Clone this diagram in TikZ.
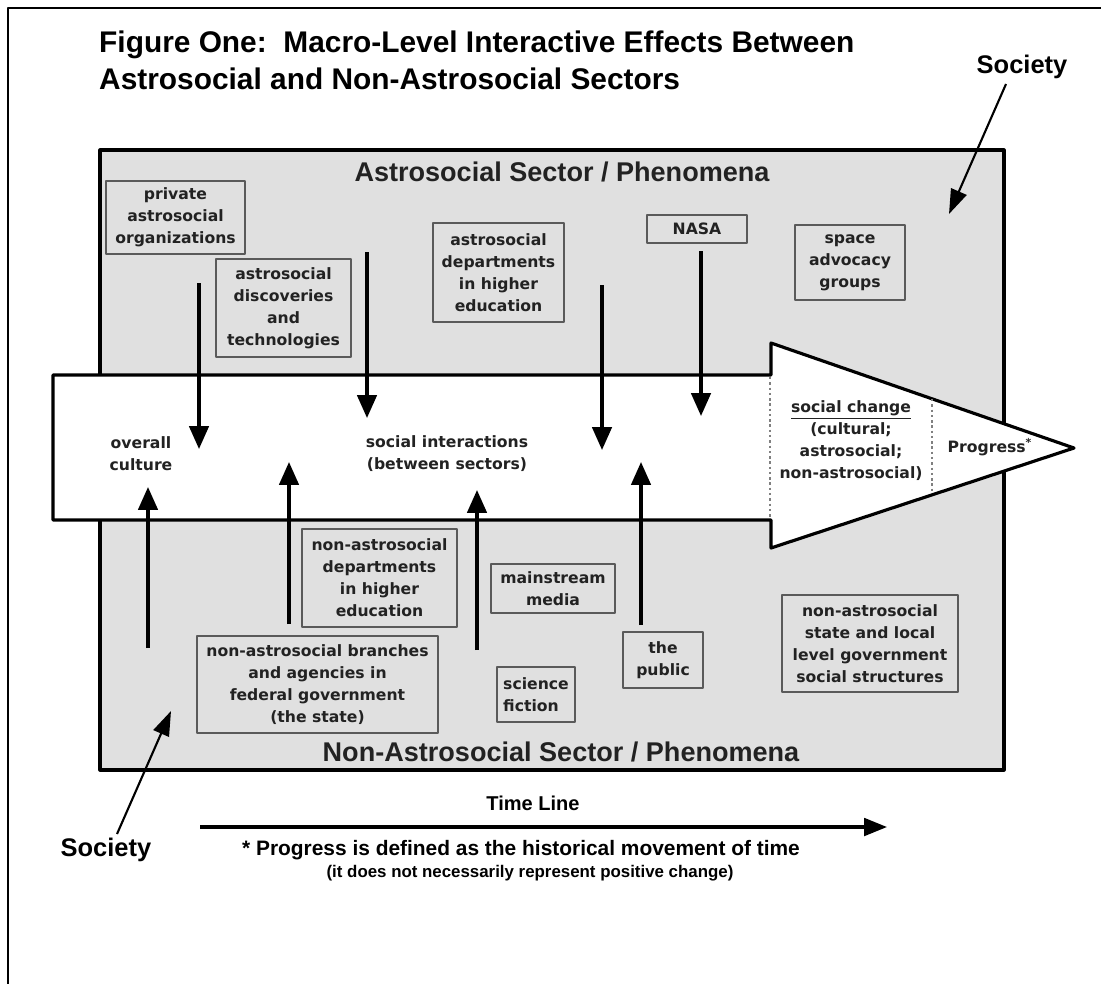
\documentclass[tikz,border=0pt]{standalone}
\usepackage{fontspec}
\setmainfont{Liberation Sans}
\newfontfamily\boxfont{DejaVu Sans}
\usetikzlibrary{arrows.meta}

\definecolor{sectorgray}{RGB}{224,224,224}
\definecolor{boxline}{RGB}{90,90,90}
\definecolor{inktext}{RGB}{34,34,34}

\tikzset{
  bx/.style={draw=boxline, line width=1pt, align=center, inner sep=1pt,
    text=inktext, font=\boxfont\bfseries\fontsize{8.9}{12.5}\selectfont},
  plain/.style={align=center, text=inktext, font=\boxfont\bfseries\fontsize{8.9}{12.5}\selectfont},
  flow/.style={line width=1.9pt, -{Triangle[width=11pt,length=13pt]}},
  pointer/.style={line width=1.2pt, -{Triangle[width=9.5pt,length=14pt]}},
  sector/.style={font=\bfseries\fontsize{15.4}{18}\selectfont, text=inktext}
}

\begin{document}
\begin{tikzpicture}[x=0.02cm, y=-0.02cm, line join=round]
\useasboundingbox (0,0) rectangle (1101,984);
% page frame (only top and left edges show)
\draw[line width=1.3pt] (1101,8) -- (8,8) -- (8,984);

% title
\node[anchor=west, font=\bfseries\fontsize{17}{19}\selectfont] (title1) at (93,45) {Figure One:\ \ Macro-Level Interactive Effects Between};
\node[anchor=west, font=\bfseries\fontsize{17}{19}\selectfont] (title2) at (93,79) {Astrosocial and Non-Astrosocial Sectors};

% the two sectors
\draw[fill=sectorgray, line width=1.8pt] (100,150) rectangle (1004,770);
\node[sector] (astro) at (562,172) {Astrosocial Sector / Phenomena};
\node[sector] (nonastro) at (561,752) {Non-Astrosocial Sector / Phenomena};

% big arrow of progress
\draw[fill=white, line width=1.8pt] (53,375) -- (771,375) -- (771,343) -- (1074,448)
  -- (771,548) -- (771,520) -- (53,520) -- cycle;
\draw[gray, line width=0.8pt, dash pattern=on 1.4pt off 1.6pt] (770,377) -- (770,518);
\draw[gray, line width=0.8pt, dash pattern=on 1.4pt off 1.6pt] (932,399) -- (932,493);

\node[plain] (culture) at (141,454) {overall\\culture};
\node[plain] (interact) at (447,454) {social interactions\\(between sectors)};
\node[plain] (change) at (851,441) {\underline{social change}\\(cultural;\\astrosocial;\\non-astrosocial)};
\node[plain] (progress) at (990,447) {Progress\textsuperscript{*}};

% astrosocial boxes
\node[bx, minimum width=139*0.02cm, minimum height=73*0.02cm] (priv) at (175.5,217.5) {private\\astrosocial\\organizations};
\node[bx, minimum width=135*0.02cm, minimum height=98*0.02cm] (disc) at (283.5,308) {astrosocial\\discoveries\\and\\technologies};
\node[bx, minimum width=131*0.02cm, minimum height=99*0.02cm] (adept) at (498.5,272.5) {astrosocial\\departments\\in higher\\education};
\node[bx, minimum width=100*0.02cm, minimum height=28*0.02cm] (nasa) at (697,229) {NASA};
\node[bx, minimum width=110*0.02cm, minimum height=75*0.02cm] (advocacy) at (850,262.5) {space\\advocacy\\groups};

% non-astrosocial boxes
\node[bx, minimum width=155*0.02cm, minimum height=98*0.02cm] (ndept) at (379.5,578) {non-astrosocial\\departments\\in higher\\education};
\node[bx, minimum width=241*0.02cm, minimum height=97*0.02cm] (federal) at (317.5,684.5) {non-astrosocial branches\\and agencies in\\federal government\\(the state)};
\node[bx, minimum width=124*0.02cm, minimum height=49*0.02cm] (media) at (553,588.5) {mainstream\\media};
\node[bx, minimum width=78*0.02cm, minimum height=55*0.02cm, align=left] (scifi) at (536,694.5) {science\\fiction};
\node[bx, minimum width=80*0.02cm, minimum height=56*0.02cm] (public) at (663,660) {the\\public};
\node[bx, minimum width=176*0.02cm, minimum height=97*0.02cm] (statelocal) at (870,643.5) {non-astrosocial\\state and local\\level government\\social structures};

% influences into the arrow
\foreach \n/\x/\a/\b in {1/199/283/449, 2/367/252/418, 3/602/285/450, 4/701/251/416}{
  \coordinate (down\n top) at (\x,\a);
  \coordinate (down\n tip) at (\x,\b);
  \draw[flow] (down\n top) -- (down\n tip);
}
\foreach \n/\x/\a/\b in {1/148/648/487, 2/289/624/462, 3/477/650/490, 4/641/625/462}{
  \coordinate (up\n foot) at (\x,\a);
  \coordinate (up\n tip) at (\x,\b);
  \draw[flow] (up\n foot) -- (up\n tip);
}

% society
\node[font=\bfseries\fontsize{14.5}{17}\selectfont] (societyT) at (1022,67) {Society};
\coordinate (societyTfoot) at (1006,84);
\coordinate (societyTtip) at (949,214);
\draw[pointer] (societyTfoot) -- (societyTtip);
\node[font=\bfseries\fontsize{14.5}{17}\selectfont] (societyB) at (106,850) {Society};
\coordinate (societyBfoot) at (117,834);
\coordinate (societyBtip) at (171,711);
\draw[pointer] (societyBfoot) -- (societyBtip);

% time line
\node[font=\bfseries\fontsize{11.4}{13}\selectfont] (timeline) at (533,803) {Time Line};
\coordinate (tstart) at (200,827);
\coordinate (tend) at (887,827);
\draw[line width=1.8pt, -{Triangle[width=10pt,length=13pt]}] (tstart) -- (tend);
\node[font=\bfseries\fontsize{11.9}{14}\selectfont] (note1) at (521,850) {* Progress is defined as the historical movement of time};
\node[font=\bfseries\fontsize{9.6}{12}\selectfont] (note2) at (530,873) {(it does not necessarily represent positive change)};
\end{tikzpicture}
\end{document}
